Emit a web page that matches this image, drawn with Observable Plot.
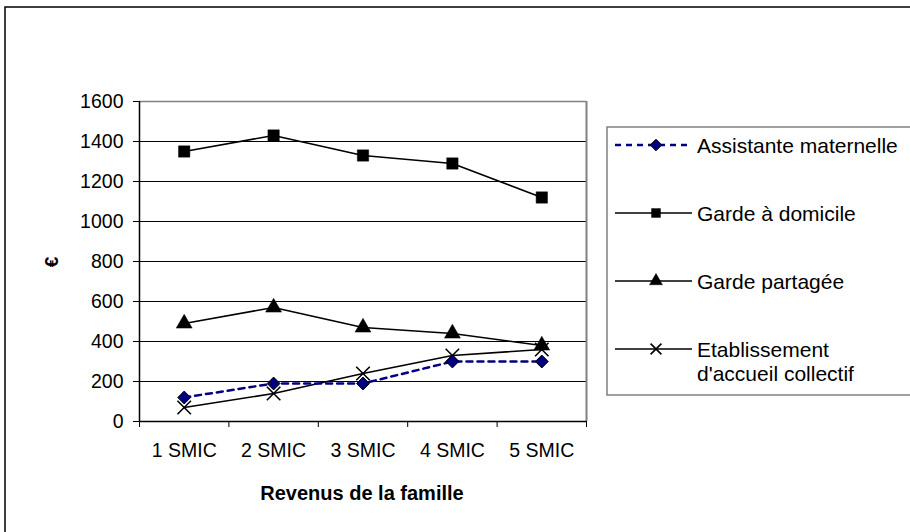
<!DOCTYPE html>
<html>
<head>
<meta charset="utf-8">
<script src="https://cdn.jsdelivr.net/npm/d3@7"></script>
<script src="https://cdn.jsdelivr.net/npm/@observablehq/plot@0.6"></script>
<style>
  html, body { margin: 0; padding: 0; background: #fff; }
  #chart { width: 910px; height: 532px; overflow: hidden; }
  svg text { font-family: "Liberation Sans", Arial, sans-serif; }
</style>
</head>
<body>
<div id="chart"></div>
<script>
const categories = ["1 SMIC", "2 SMIC", "3 SMIC", "4 SMIC", "5 SMIC"];
const seriesNames = ["Assistante maternelle", "Garde à domicile", "Garde partagée", "Etablissement d'accueil collectif"];
const assistante = [120, 190, 190, 300, 300];
const gardeDomicile = [1350, 1430, 1330, 1290, 1120];
const gardePartagee = [490, 570, 470, 440, 380];
const etablissement = [70, 140, 240, 330, 360];
const yTicks = [0, 200, 400, 600, 800, 1000, 1200, 1400, 1600];

const seriesValues = [assistante, gardeDomicile, gardePartagee, etablissement];
const styles = [
  {stroke: "#000080", dash: "6,5", width: 2.5, symbol: "diamond2", fill: "#000080", r: 5.8, lr: 5.2, sym: d3.symbolDiamond2, sw: 1},
  {stroke: "#000", dash: null, width: 1.6, symbol: "square", fill: "#000", r: 6.4, lr: 5, sym: d3.symbolSquare, sw: 0.5},
  {stroke: "#000", dash: null, width: 1.6, symbol: "triangle", fill: "#000", r: 5.9, lr: 4.8, sym: d3.symbolTriangle, sw: 0.5},
  {stroke: "#000", dash: null, width: 1.6, symbol: "times", fill: "none", r: 6.2, lr: 5, sym: d3.symbolTimes, sw: 1.6}
];

const rows = [];
seriesNames.forEach((s, si) => categories.forEach((c, ci) => rows.push({series: s, si, i: ci + 1, cat: c, value: seriesValues[si][ci]})));

const boundaries = d3.range(0.5, categories.length + 1, 1);
const centers = d3.range(1, categories.length + 1);

const marks = [
  Plot.ruleY(yTicks.filter(t => t > 0 && t < 1600), {stroke: "#000", strokeWidth: 1}),
  Plot.ruleY([1600], {stroke: "#808080", strokeWidth: 1.5}),
  Plot.ruleX([categories.length + 0.5], {stroke: "#808080", strokeWidth: 2}),
  Plot.axisY({ticks: yTicks, tickSize: 6, tickPadding: 10, fontSize: 19.5, tickFormat: d => String(d), label: null, stroke: "#000"}),
  Plot.ruleX([0.5], {y1: 0, y2: 1600, stroke: "#000", strokeWidth: 1.5}),
  Plot.axisX({ticks: boundaries, tickSize: 6, tickFormat: () => "", label: null}),
  Plot.axisX({ticks: centers, tickSize: 0, tickPadding: 22, fontSize: 19.5, tickFormat: d => categories[d - 1], label: null}),
  Plot.ruleY([0], {stroke: "#000", strokeWidth: 1.5})
];
[3, 2, 1, 0].forEach(si => {
  const st = styles[si];
  const data = rows.filter(r => r.si === si);
  marks.push(Plot.line(data, {x: "i", y: "value", stroke: st.stroke, strokeWidth: st.width, strokeDasharray: st.dash}));
});
[3, 2, 1, 0].forEach(si => {
  const st = styles[si];
  const data = rows.filter(r => r.si === si);
  marks.push(Plot.dot(data, {x: "i", y: "value", symbol: () => st.symbol, r: st.r,
    fill: st.fill, stroke: "#000", strokeWidth: st.sw}));
});

const plot = Plot.plot({
  width: 910,
  height: 532,
  marginLeft: 139,
  marginRight: 324,
  marginTop: 101,
  marginBottom: 111,
  style: {fontFamily: "Liberation Sans, Arial, sans-serif", fontSize: "19px", background: "#fff", color: "#000", overflow: "visible"},
  x: {type: "linear", domain: [0.5, categories.length + 0.5]},
  y: {domain: [0, 1600]},
  symbol: {type: "identity"},
  marks
});

document.getElementById("chart").appendChild(plot);

const svg = d3.select(plot);
svg.append("path").attr("d", "M5,532 L5,7 L910,7").attr("fill", "none").attr("stroke", "#000").attr("stroke-width", 1.5);

svg.append("text").attr("x", 362).attr("y", 500).attr("text-anchor", "middle")
  .attr("font-size", 20).attr("font-weight", "bold").text("Revenus de la famille");
svg.append("text").attr("transform", "translate(58,262) rotate(-90)").attr("text-anchor", "middle")
  .attr("font-size", 19).attr("font-weight", "bold").text("€");

const lg = svg.append("g");
lg.append("rect").attr("x", 607).attr("y", 127).attr("width", 320).attr("height", 268)
  .attr("fill", "#fff").attr("stroke", "#808080").attr("stroke-width", 1.5);
const rowY = [145, 213, 281, 349];
seriesNames.forEach((name, si) => {
  const st = styles[si];
  const y = rowY[si];
  lg.append("line").attr("x1", 615).attr("x2", 692).attr("y1", y).attr("y2", y)
    .attr("stroke", st.stroke).attr("stroke-width", st.width).attr("stroke-dasharray", st.dash);
  lg.append("path").attr("transform", `translate(656,${y})`)
    .attr("d", d3.symbol(st.sym, Math.PI * st.lr * st.lr)())
    .attr("fill", st.fill).attr("stroke", "#000").attr("stroke-width", st.sw);
  const t = lg.append("text").attr("x", 697).attr("y", y + 7.5).attr("font-size", 21).attr("text-anchor", "start");
  if (si === 3) {
    t.append("tspan").attr("x", 697).text("Etablissement");
    t.append("tspan").attr("x", 697).attr("dy", 24).text("d'accueil collectif");
  } else {
    t.text(name);
  }
});
</script>
</body>
</html>
